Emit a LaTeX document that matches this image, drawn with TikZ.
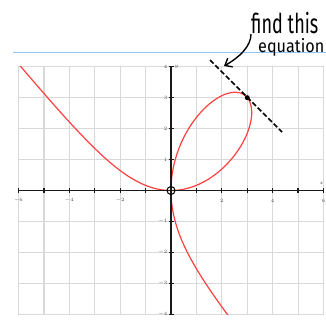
\documentclass[tikz,border=0pt]{standalone}
\usepackage{fontspec}
\setmainfont{Fira Sans}
\usetikzlibrary{arrows.meta}
\definecolor{gridgray}{HTML}{D9D9D9}
\definecolor{curvered}{HTML}{FF4040}
\definecolor{lineblue}{HTML}{8CC8F5}
\definecolor{inkblack}{HTML}{1A1A1A}
\begin{document}
\begin{tikzpicture}[x=1pt,y=-1pt,
  gridline/.style={gridgray, line width=1.2pt},
  curve/.style={curvered, line width=1.2pt},
  axisline/.style={inkblack, line width=1.3pt},
  ticklbl/.style={font=\fontsize{5.5}{6}\selectfont\itshape, text=inkblack!80, inner sep=0.5pt},
  handtext/.style={inner sep=0pt, text=black, transform shape},
  tangent/.style={black, line width=1.7pt, dash pattern=on 5pt off 2.5pt},
  pointer/.style={black, line width=1.4pt, -{Straight Barb[length=6pt,width=10pt]}},
  dotblack/.style={circle, fill=black, inner sep=0pt, minimum size=5pt},
  opendot/.style={circle, draw=black, line width=1pt, inner sep=0pt, minimum size=8pt}]
\useasboundingbox (0,0) rectangle (326,322);
\draw[lineblue, line width=1pt] (13,52.5) -- (326,52.5);
\begin{scope}[shift={(171,190.5)}, x={(25.42pt,0pt)}, y={(0pt,30.94pt)}]
  \foreach \i in {-6,...,6} \draw[gridline] (\i,-4) -- (\i,4);
  \foreach \j in {-4,...,4} \draw[gridline] (-6,\j) -- (6,\j);
  \begin{scope}
    \clip (-6,-4) rectangle (6,4);
    \draw[curve] plot[domain=0:1, samples=80, smooth] ({6*\x/(1+\x*\x*\x)},{6*\x*\x/(1+\x*\x*\x)});
    \draw[curve] plot[domain=0:1, samples=80, smooth] ({6*\x*\x/(1+\x*\x*\x)},{6*\x/(1+\x*\x*\x)});
    \draw[curve] plot[domain=-0.70:0, samples=80, smooth] ({6*\x/(1+\x*\x*\x)},{6*\x*\x/(1+\x*\x*\x)});
    \draw[curve] plot[domain=-0.75:0, samples=80, smooth] ({6*\x*\x/(1+\x*\x*\x)},{6*\x/(1+\x*\x*\x)});
  \end{scope}
  \draw[axisline] (-6,0) -- (6,0);
  \draw[axisline] (0,-4) -- (0,4);
  \foreach \i in {-6,...,6} \draw[axisline] (\i,0) ++(0pt,-2.5pt) -- ++(0pt,5pt);
  \foreach \j in {-4,...,4} \draw[axisline] (0,\j) ++(-2.5pt,0pt) -- ++(5pt,0pt);
  \foreach \i in {-6,-4,-2,2,4,6} \node[ticklbl] (xl\i) at ([yshift=-10pt]\i,0) {$\i$};
  \foreach \j in {-4,-3,-2,-1,1,2,3,4} \node[ticklbl, anchor=east] (yl\j) at ([xshift=-3pt]0,\j) {$\j$};
  \node[ticklbl, anchor=west] (ylab) at ([xshift=3pt]0,4) {$y$};
  \node[ticklbl] (xlab) at ([yshift=7pt,xshift=-2pt]6,0) {$x$};
  \node[opendot] (O) at (0,0) {};
  \node[dotblack] (P) at (3,3) {};
\end{scope}
\coordinate (t1) at (210,60);
\coordinate (t2) at (282,132);
\draw[tangent] (t1) -- (t2);
\begin{scope}[shift={(251,33)}, x=1pt, y=1pt, xscale=0.86, yscale=1.3]
  \node[handtext, anchor=base west, font=\fontsize{21}{23}\selectfont] (find) at (0,0) {find this};
\end{scope}
\begin{scope}[shift={(258,52.5)}, x=1pt, y=1pt, xscale=0.9, yscale=1.0]
  \node[handtext, anchor=base west, font=\fontsize{18}{20}\selectfont] (eq) at (0,0) {equation};
\end{scope}
\coordinate (astart) at (251,34);
\coordinate (atip) at (224,66);
\draw[pointer] (astart) .. controls (251,46) and (240,57) .. (atip);
\end{tikzpicture}
\end{document}
